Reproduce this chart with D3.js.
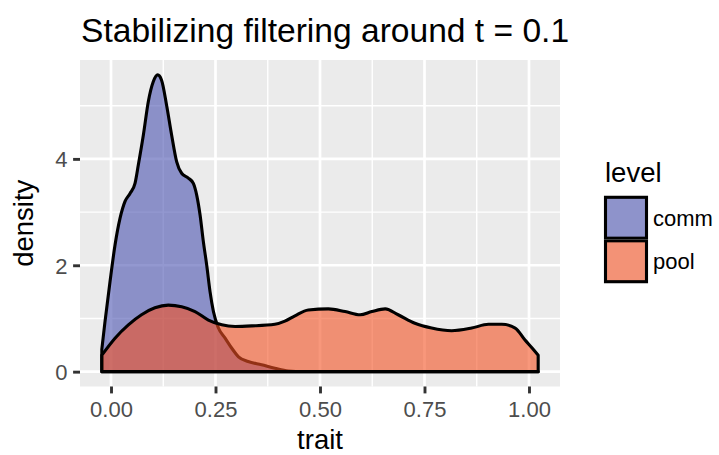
<!DOCTYPE html>
<html>
<head>
<meta charset="utf-8">
<script src="https://cdn.jsdelivr.net/npm/d3@7"></script>
<style>
  html, body { margin: 0; padding: 0; background: #ffffff; }
  svg { display: block; }
  text { font-family: "Liberation Sans", Arial, Helvetica, sans-serif; }
</style>
</head>
<body>
<svg id="chart" width="719" height="455"></svg>
<script>
// ---- data ----
const chartTitle = "Stabilizing filtering around t = 0.1";
const xTitle = "trait";
const yTitle = "density";
const legendTitle = "level";
const levels = ["comm", "pool"];

const commTrait = [-0.022, -0.0144, -0.0024, 0.0096, 0.0215, 0.0335, 0.0455, 0.0574, 0.0654, 0.0774,
  0.0893, 0.101, 0.1117, 0.121, 0.133, 0.145, 0.157, 0.169, 0.185, 0.197,
  0.205, 0.213, 0.221, 0.229, 0.237, 0.245, 0.257, 0.273, 0.289, 0.305,
  0.328, 0.36, 0.392, 0.424, 0.46, 0.6, 0.8, 1.022];
const commDensity = [0.42, 0.94, 1.69, 2.38, 2.88, 3.2, 3.35, 3.54, 3.89, 4.45,
  5.08, 5.45, 5.58, 5.48, 5.01, 4.45, 3.95, 3.73, 3.64, 3.54,
  3.32, 2.95, 2.44, 2.0, 1.5, 1.13, 0.82, 0.63, 0.44, 0.28,
  0.19, 0.13, 0.065, 0.013, 0.0, 0.0, 0.0, 0.0];

const poolTrait = [-0.022, 0.0096, 0.0415, 0.073, 0.105, 0.137, 0.169, 0.201, 0.233, 0.265,
  0.297, 0.337, 0.392, 0.416, 0.44, 0.472, 0.52, 0.56, 0.596, 0.624,
  0.656, 0.687, 0.727, 0.767, 0.815, 0.863, 0.903, 0.935, 0.967, 0.99,
  1.008, 1.022];
const poolDensity = [0.31, 0.63, 0.88, 1.07, 1.2, 1.25, 1.22, 1.13, 0.97, 0.88,
  0.85, 0.86, 0.89, 0.95, 1.05, 1.16, 1.18, 1.13, 1.07, 1.13,
  1.18, 1.07, 0.91, 0.82, 0.77, 0.82, 0.89, 0.89, 0.82, 0.6,
  0.44, 0.31];

const xTicks = [0, 0.25, 0.5, 0.75, 1.0];
const xTickLabels = ["0.00", "0.25", "0.50", "0.75", "1.00"];
const xMinor = [0.125, 0.375, 0.625, 0.875];
const yTicks = [0, 2, 4];
const yTickLabels = ["0", "2", "4"];
const yMinor = [1, 3, 5];

const fillColors = ["rgb(75,83,177)", "rgb(243,82,35)"];
const fillAlpha = 0.6;

// ---- layout ----
const svg = d3.select("#chart");
const panel = { left: 80, right: 560, top: 60, bottom: 386.5 };

const series = [
  { level: levels[0], pts: commTrait.map((t, i) => [t, commDensity[i]]) },
  { level: levels[1], pts: poolTrait.map((t, i) => [t, poolDensity[i]]) }
];

const xExt = d3.extent(commTrait.concat(poolTrait));
const xPad = (xExt[1] - xExt[0]) * 0.05;
const yMax = d3.max(commDensity.concat(poolDensity));
const yPad = yMax * 0.05;

const x = d3.scaleLinear().domain([xExt[0] - xPad, xExt[1] + xPad]).range([panel.left, panel.right]);
const y = d3.scaleLinear().domain([0 - yPad, yMax + yPad]).range([panel.bottom, panel.top]);

// panel background
svg.append("rect")
  .attr("x", panel.left).attr("y", panel.top)
  .attr("width", panel.right - panel.left).attr("height", panel.bottom - panel.top)
  .attr("fill", "#EBEBEB");

const grid = svg.append("g");
grid.selectAll(".ymin").data(yMinor).join("line")
  .attr("x1", panel.left).attr("x2", panel.right)
  .attr("y1", d => y(d)).attr("y2", d => y(d))
  .attr("stroke", "#fff").attr("stroke-width", 1.4);
grid.selectAll(".xmin").data(xMinor).join("line")
  .attr("y1", panel.top).attr("y2", panel.bottom)
  .attr("x1", d => x(d)).attr("x2", d => x(d))
  .attr("stroke", "#fff").attr("stroke-width", 1.4);
grid.selectAll(".ymaj").data(yTicks).join("line")
  .attr("x1", panel.left).attr("x2", panel.right)
  .attr("y1", d => y(d)).attr("y2", d => y(d))
  .attr("stroke", "#fff").attr("stroke-width", 2.7);
grid.selectAll(".xmaj").data(xTicks).join("line")
  .attr("y1", panel.top).attr("y2", panel.bottom)
  .attr("x1", d => x(d)).attr("x2", d => x(d))
  .attr("stroke", "#fff").attr("stroke-width", 2.7);

// densities
const area = d3.area()
  .x(d => x(d[0]))
  .y0(y(0))
  .y1(d => y(d[1]))
  .curve(d3.curveMonotoneX);

svg.append("g").selectAll("path").data(series).join("path")
  .attr("d", d => area(d.pts))
  .attr("fill", (d, i) => fillColors[i])
  .attr("fill-opacity", fillAlpha)
  .attr("stroke", "#000")
  .attr("stroke-width", 3.1)
  .attr("stroke-linejoin", "round");

// axes
const xAxis = svg.append("g").attr("transform", `translate(0,${panel.bottom})`)
  .call(d3.axisBottom(x).tickValues(xTicks).tickFormat((d, i) => xTickLabels[i]).tickSize(6.9).tickPadding(5));
const yAxis = svg.append("g").attr("transform", `translate(${panel.left},0)`)
  .call(d3.axisLeft(y).tickValues(yTicks).tickFormat((d, i) => yTickLabels[i]).tickSize(6.9).tickPadding(5.5));
[xAxis, yAxis].forEach(a => {
  a.select(".domain").remove();
  a.selectAll(".tick line").attr("stroke", "#333333").attr("stroke-width", 2.9);
  a.selectAll(".tick text").attr("fill", "#4D4D4D").attr("font-size", 22)
    .attr("font-family", "'Liberation Sans', Arial, sans-serif");
});
xAxis.selectAll(".tick text").attr("dy", null).attr("y", 30);
yAxis.selectAll(".tick text").attr("dy", "0.36em");

// titles
svg.append("text").attr("x", panel.left + 1).attr("y", 41.5)
  .attr("font-size", 33.6).attr("fill", "#000").text(chartTitle);
svg.append("text").attr("x", (panel.left + panel.right) / 2).attr("y", 449)
  .attr("text-anchor", "middle").attr("font-size", 27.5).attr("fill", "#000").text(xTitle);
svg.append("text")
  .attr("transform", `translate(33,${(panel.top + panel.bottom) / 2}) rotate(-90)`)
  .attr("text-anchor", "middle").attr("font-size", 27.5).attr("fill", "#000").text(yTitle);

// legend
const lg = svg.append("g");
lg.append("text").attr("x", 605).attr("y", 182).attr("font-size", 27.5).attr("fill", "#000").text(legendTitle);
const keyTop = 196, keyH = 43.5;
levels.forEach((lv, i) => {
  lg.append("rect").attr("x", 604).attr("y", keyTop + i * keyH).attr("width", 44).attr("height", keyH)
    .attr("fill", "#F2F2F2").attr("stroke", "#fff").attr("stroke-width", 1);
  lg.append("rect").attr("x", 605.5).attr("y", keyTop + i * keyH + 1.3).attr("width", 41).attr("height", keyH - 2.6)
    .attr("fill", fillColors[i]).attr("fill-opacity", fillAlpha)
    .attr("stroke", "#000").attr("stroke-width", 3.1);
  lg.append("text").attr("x", 653).attr("y", keyTop + i * keyH + keyH / 2 + 8)
    .attr("font-size", 22).attr("fill", "#000").text(lv);
});
</script>
</body>
</html>
